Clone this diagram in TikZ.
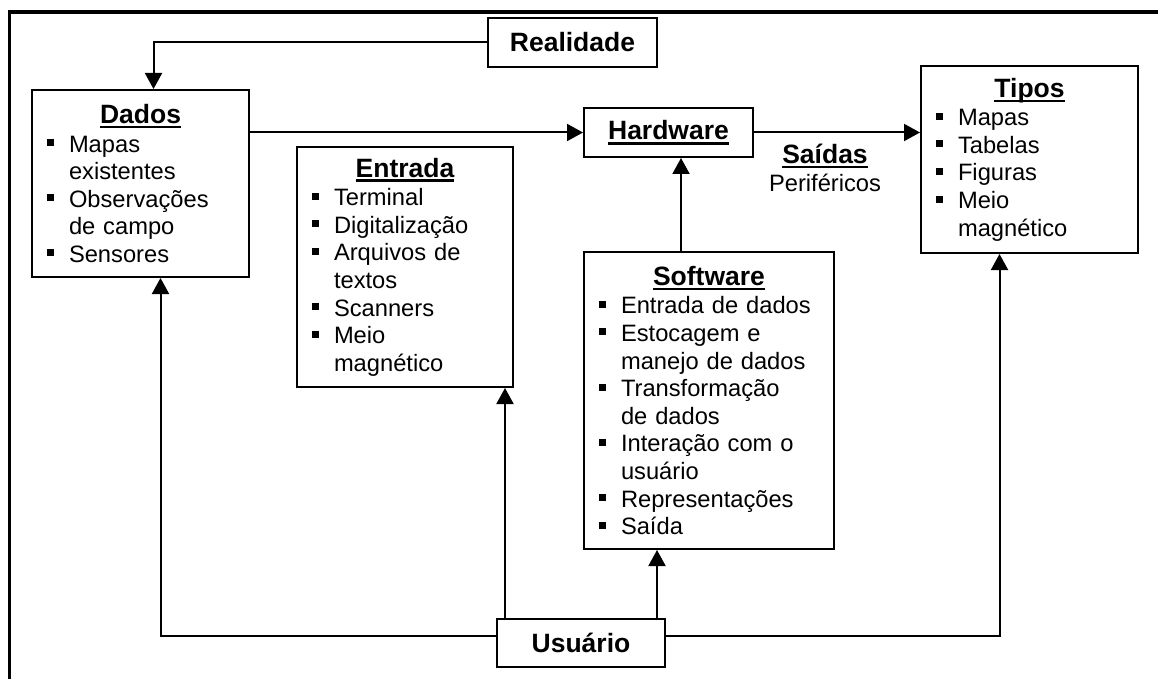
\documentclass[tikz,border=0pt]{standalone}
\usepackage{fontspec}
\setmainfont{Liberation Sans}
\usetikzlibrary{arrows.meta}
\newcommand*{\corpo}{\fontsize{23.7}{27.6}\selectfont}
\newcommand*{\titulo}{\fontsize{26.5}{30}\selectfont\bfseries}
\newsavebox{\sublinhado}
\newcommand*{\subl}[1]{\leavevmode\sbox{\sublinhado}{#1}\rlap{\rule[-5pt]{\wd\sublinhado}{2.6pt}}\usebox{\sublinhado}}
\newcommand*{\cab}[1]{{\titulo\centering\subl{#1}\par}\vspace{1pt}}
\newcommand*{\marca}[1]{\par\hangindent=22pt\hangafter=1\noindent\makebox[22pt][l]{\rule[6pt]{7pt}{7pt}}#1}

\begin{document}
\begin{tikzpicture}[x=1pt,y=-1pt,line width=2pt,>={Triangle[length=16pt,width=17pt]},
      caixa/.style={draw,line width=2pt,inner sep=0pt},
      lista/.style={caixa,inner xsep=15pt,inner ysep=4pt,align=left,font=\corpo},
      rotulo/.style={caixa,font=\titulo,minimum width=169pt,minimum height=49pt}]
  \useasboundingbox (0,0) rectangle (1158,679);
  \draw[line width=3.8pt] (9.5,679) -- (9.5,12) -- (1158,12);

  \node[rotulo] (realidade) at (572.5,42.5) {Realidade};
  \node[rotulo] (hardware) at (668.5,132.5) {\subl{Hardware}};
  \node[rotulo,minimum width=168pt,minimum height=48pt] (usuario) at (581,643) {Usuário};

  \node[lista,text width=187pt,minimum height=187pt] (dados) at (140.5,183.5)
    {\cab{Dados}\marca{Mapas\newline existentes}\marca{Observações\newline de campo}\marca{Sensores}\par};
  \node[lista,text width=186pt,minimum height=240pt] (entrada) at (405,267)
    {\cab{Entrada}\marca{Terminal}\marca{Digitalização}\marca{Arquivos de\newline textos}\marca{Scanners}\marca{Meio\newline magnético}\par};
  \node[lista,text width=220pt,minimum height=297pt] (software) at (709,400.5)
    {\cab{Software}\marca{Entrada de dados}\marca{Estocagem e\newline manejo de dados}\marca{Transformação\newline de dados}\marca{Interação com o\newline usuário}\marca{Representações}\marca{Saída}\par};
  \node[lista,text width=187pt,minimum height=187pt] (tipos) at (1029.5,159.5)
    {\cab{Tipos}\marca{Mapas}\marca{Tabelas}\marca{Figuras}\marca{Meio\newline magnético}\par};

  \node[anchor=north,align=center,font=\corpo,inner sep=0pt] (saidas) at (825,143)
    {{\titulo\subl{Saídas}}\\Periféricos};

  \draw[->] (realidade.west) -| ([xshift=13pt]dados.north);
  \draw[->] (dados.east |- hardware.west) -- (hardware.west);
  \draw[->] (hardware.east) -- (tipos.west |- hardware.east);
  \draw[->] ([xshift=-28pt]software.north) -- ([xshift=-28pt]software.north |- hardware.south);
  \draw[->] ([yshift=7pt]usuario.west) -| ([xshift=20pt]dados.south);
  \draw[->] ([yshift=7pt]usuario.east) -| ([xshift=-30pt]tipos.south);
  \draw[->] ([xshift=100pt]entrada.south |- usuario.north) -- ([xshift=100pt]entrada.south);
  \draw[->] ([xshift=-52pt]software.south |- usuario.north) -- ([xshift=-52pt]software.south);
\end{tikzpicture}
\end{document}
